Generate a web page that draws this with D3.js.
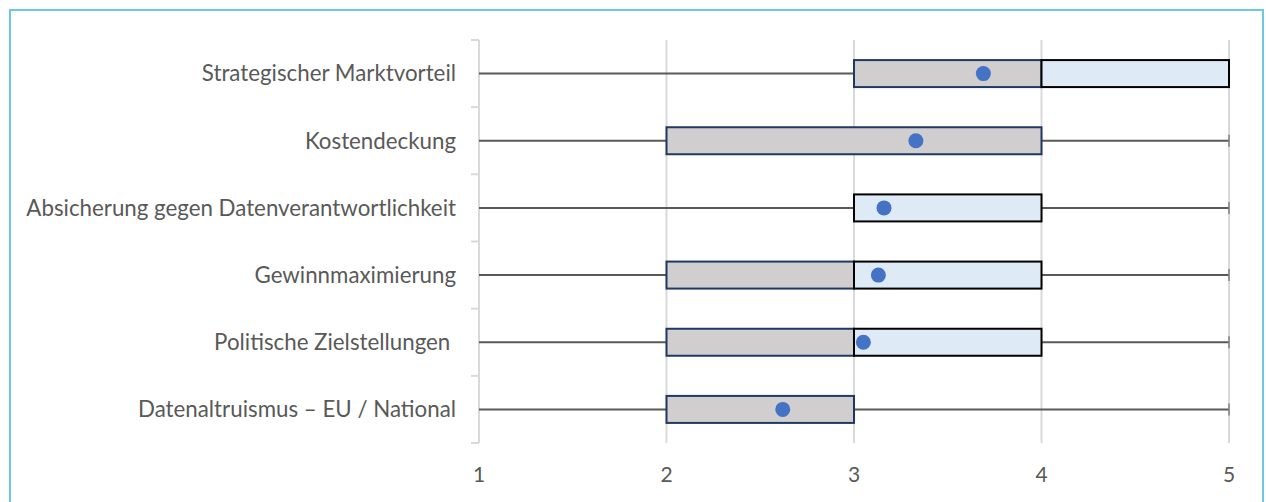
<!DOCTYPE html>
<html>
<head>
<meta charset="utf-8">
<script src="https://cdn.jsdelivr.net/npm/d3@7"></script>
<style>
body{margin:0;background:#fff;}
svg text{font-family:Lato,"Open Sans",sans-serif;fill:#595959;white-space:pre;}
</style>
</head>
<body>
<svg id="chart" width="1266" height="502"></svg>
<script>
var categories = ['Strategischer Marktvorteil', 'Kostendeckung', 'Absicherung gegen Datenverantwortlichkeit',
                  'Gewinnmaximierung', 'Politische Zielstellungen ', 'Datenaltruismus \u2013 EU / National'];
var mins    = [1, 1, 1, 1, 1, 1];
var q1s     = [3, 2, 3, 2, 2, 2];
var medians = [4, 4, 3, 3, 3, 3];
var q3s     = [5, 4, 4, 4, 4, 3];
var maxs    = [5, 5, 5, 5, 5, 5];
var means   = [3.69, 3.33, 3.16, 3.13, 3.05, 2.62];
var xTicks  = [1, 2, 3, 4, 5];

var svg = d3.select('#chart');
var plot_left = 479, plot_right = 1229, plot_top = 40, plot_bottom = 443;
var box_h = 27;

// frame
svg.append('rect').attr('x', 10).attr('y', 10).attr('width', 1253).attr('height', 500)
   .attr('fill', 'none').attr('stroke', '#6CCAE0').attr('stroke-width', 2);

var x = d3.scaleLinear().domain([1, 5]).range([plot_left, plot_right]);
var y = d3.scaleBand().domain(categories).range([plot_top, plot_bottom]);

// gridlines
svg.append('g').selectAll('line').data(xTicks.slice(1)).enter().append('line')
   .attr('x1', function(d){return x(d);}).attr('x2', function(d){return x(d);})
   .attr('y1', plot_top).attr('y2', plot_bottom)
   .attr('stroke', '#d9d9d9').attr('stroke-width', 2);

// left axis with band ticks
var yAxis = svg.append('g').attr('transform', 'translate(' + plot_left + ',0)');
yAxis.append('line').attr('y1', plot_top).attr('y2', plot_bottom).attr('stroke', '#d9d9d9').attr('stroke-width', 2);
var bounds = categories.map(function(c){return y(c);}).concat([plot_bottom]);
yAxis.selectAll('.tk').data(bounds).enter().append('line')
     .attr('x1', -8).attr('x2', 0)
     .attr('y1', function(d){return d;}).attr('y2', function(d){return d;})
     .attr('stroke', '#d9d9d9').attr('stroke-width', 2);

// category labels
svg.append('g').selectAll('text').data(categories).enter().append('text')
   .attr('x', 456).attr('y', function(d){return y(d) + y.bandwidth()/2;})
   .attr('dy', '0.35em').attr('text-anchor', 'end').attr('font-size', '22.3px')
   .text(function(d){return d;});

// x tick labels
svg.append('g').selectAll('text').data(xTicks).enter().append('text')
   .attr('x', function(d){return x(d);}).attr('y', 482)
   .attr('text-anchor', 'middle').attr('font-size', '21px')
   .text(function(d){return d;});

var rows = categories.map(function(c, i){
    return {cat: c, min: mins[i], q1: q1s[i], med: medians[i], q3: q3s[i], max: maxs[i], mean: means[i]};
});

var g = svg.append('g').selectAll('g').data(rows).enter().append('g')
           .attr('transform', function(d){return 'translate(0,' + (y(d.cat) + y.bandwidth()/2) + ')';});

// whiskers
g.append('line').attr('x1', function(d){return x(d.min);}).attr('x2', function(d){return x(d.max);})
 .attr('stroke', '#595959').attr('stroke-width', 2);
g.append('line').attr('x1', function(d){return x(d.max);}).attr('x2', function(d){return x(d.max);})
 .attr('y1', -6).attr('y2', 6).attr('stroke', '#7f7f7f').attr('stroke-width', 1.5);

// lower box (q1 -> median)
g.filter(function(d){return d.med > d.q1;}).append('rect')
 .attr('x', function(d){return x(d.q1);}).attr('width', function(d){return x(d.med) - x(d.q1);})
 .attr('y', -box_h/2).attr('height', box_h)
 .attr('fill', '#d0cece').attr('stroke', '#1f3864').attr('stroke-width', 2);

// upper box (median -> q3)
g.filter(function(d){return d.q3 > d.med;}).append('rect')
 .attr('x', function(d){return x(d.med);}).attr('width', function(d){return x(d.q3) - x(d.med);})
 .attr('y', -box_h/2).attr('height', box_h)
 .attr('fill', '#deebf7').attr('stroke', '#000').attr('stroke-width', 2);

// mean
g.append('circle').attr('cx', function(d){return x(d.mean);}).attr('r', 7.5).attr('fill', '#4472c4');
</script>
</body>
</html>
